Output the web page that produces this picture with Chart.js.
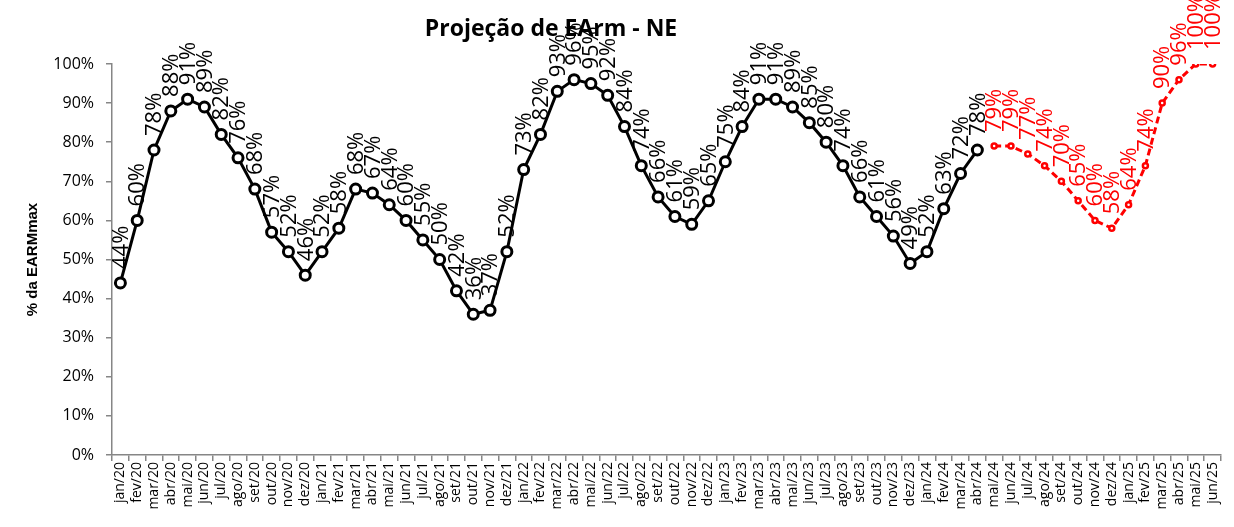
<!DOCTYPE html>
<html lang="pt">
<head>
    <meta charset="UTF-8">
    <title>Projeção de EArm - NE</title>
    <script src="https://cdn.jsdelivr.net/npm/chart.js"></script>
    <style>
        body { margin: 0; background: #fff; }
    </style>
</head>
<body>
    <canvas id="earmChart" width="1234" height="527"></canvas>
    <script>
        const meses = [
            'jan/20','fev/20','mar/20','abr/20','mai/20','jun/20','jul/20','ago/20','set/20','out/20','nov/20','dez/20',
            'jan/21','fev/21','mar/21','abr/21','mai/21','jun/21','jul/21','ago/21','set/21','out/21','nov/21','dez/21',
            'jan/22','fev/22','mar/22','abr/22','mai/22','jun/22','jul/22','ago/22','set/22','out/22','nov/22','dez/22',
            'jan/23','fev/23','mar/23','abr/23','mai/23','jun/23','jul/23','ago/23','set/23','out/23','nov/23','dez/23',
            'jan/24','fev/24','mar/24','abr/24','mai/24','jun/24','jul/24','ago/24','set/24','out/24','nov/24','dez/24',
            'jan/25','fev/25','mar/25','abr/25','mai/25','jun/25'
        ];

        // verificado jan/20 - abr/24 (% EARMmax)
        const verificado = [
            44, 60, 78, 88, 91, 89, 82, 76, 68, 57, 52, 46,
            52, 58, 68, 67, 64, 60, 55, 50, 42, 36, 37, 52,
            73, 82, 93, 96, 95, 92, 84, 74, 66, 61, 59, 65,
            75, 84, 91, 91, 89, 85, 80, 74, 66, 61, 56, 49,
            52, 63, 72, 78
        ];

        // projecao mai/24 - jun/25
        const projecao = [79, 79, 77, 74, 70, 65, 60, 58, 64, 74, 90, 96, 100, 100];

        const yTicks = [0, 10, 20, 30, 40, 50, 60, 70, 80, 90, 100];

        const serieVerif = meses.map((m, i) => i < verificado.length ? verificado[i] : null);
        const serieProj = meses.map((m, i) => {
            const k = i - (meses.length - projecao.length);
            return k >= 0 ? projecao[k] : null;
        });

        const axisGray = '#868686';

        // rotulos de dados verticais acima dos pontos
        const rotulos = {
            id: 'rotulos',
            afterDatasetsDraw(chart) {
                const ctx = chart.ctx;
                chart.data.datasets.forEach((ds, di) => {
                    const meta = chart.getDatasetMeta(di);
                    meta.data.forEach((pt, i) => {
                        const v = ds.data[i];
                        if (v === null || v === undefined) return;
                        ctx.save();
                        ctx.translate(pt.x, pt.y - 14);
                        ctx.rotate(-Math.PI / 2);
                        ctx.font = '22px "Open Sans"';
                        ctx.fillStyle = ds.borderColor;
                        ctx.textAlign = 'left';
                        ctx.textBaseline = 'middle';
                        ctx.fillText(Math.round(v) + '%', 0, 1);
                        ctx.restore();
                    });
                });
            }
        };

        const titulos = {
            id: 'titulos',
            afterDraw(chart) {
                const ctx = chart.ctx;
                const area = chart.chartArea;
                ctx.save();
                ctx.fillStyle = '#000';
                ctx.font = 'bold 23px "Open Sans"';
                ctx.textAlign = 'center';
                ctx.textBaseline = 'middle';
                ctx.fillText('Projeção de EArm - NE', 551, 29);

                ctx.translate(33, (area.top + area.bottom) / 2);
                ctx.rotate(-Math.PI / 2);
                ctx.font = 'bold 15px "Liberation Sans"';
                ctx.fillText('% da EARMmax', 0, 0);
                ctx.restore();
            }
        };

        const ctx = document.getElementById('earmChart').getContext('2d');
        new Chart(ctx, {
            type: 'line',
            data: {
                labels: meses,
                datasets: [{
                    label: 'Verificado',
                    data: serieVerif,
                    borderColor: '#000000',
                    backgroundColor: '#ffffff',
                    borderWidth: 3,
                    pointRadius: 5,
                    pointBorderWidth: 3,
                    pointBackgroundColor: '#ffffff',
                    pointBorderColor: '#000000',
                    tension: 0,
                    spanGaps: false
                }, {
                    label: 'Projeção',
                    data: serieProj,
                    borderColor: '#ff0000',
                    backgroundColor: '#ffffff',
                    borderWidth: 3,
                    borderDash: [7, 4],
                    pointRadius: 2.5,
                    pointBorderWidth: 2.5,
                    pointBackgroundColor: '#ffffff',
                    pointBorderColor: '#ff0000',
                    tension: 0,
                    spanGaps: false
                }]
            },
            options: {
                responsive: false,
                animation: false,
                devicePixelRatio: 1,
                layout: {
                    padding: { top: 64, right: 13, bottom: 0, left: 0 }
                },
                plugins: {
                    legend: { display: false },
                    title: { display: false },
                    tooltip: { enabled: false }
                },
                scales: {
                    x: {
                        offset: true,
                        border: { color: axisGray, width: 1.5 },
                        grid: {
                            offset: true,
                            drawOnChartArea: false,
                            drawTicks: true,
                            tickLength: 6,
                            color: axisGray,
                            lineWidth: 1.5
                        },
                        ticks: {
                            autoSkip: false,
                            minRotation: 90,
                            maxRotation: 90,
                            padding: 1,
                            color: '#000',
                            font: { family: 'Open Sans', size: 14 }
                        },
                        afterFit(scale) { scale.height = 72; }
                    },
                    y: {
                        min: 0,
                        max: 100,
                        afterBuildTicks(scale) {
                            scale.ticks = yTicks.map(v => ({ value: v }));
                        },
                        border: { color: axisGray, width: 1.5 },
                        grid: {
                            drawOnChartArea: false,
                            drawTicks: true,
                            tickLength: 6,
                            color: axisGray,
                            lineWidth: 1.5
                        },
                        ticks: {
                            padding: 12,
                            color: '#000',
                            font: { family: 'Open Sans', size: 16 },
                            callback: v => v + '%'
                        },
                        afterFit(scale) { scale.width = 112; }
                    }
                }
            },
            plugins: [rotulos, titulos]
        });
    </script>
</body>
</html>
